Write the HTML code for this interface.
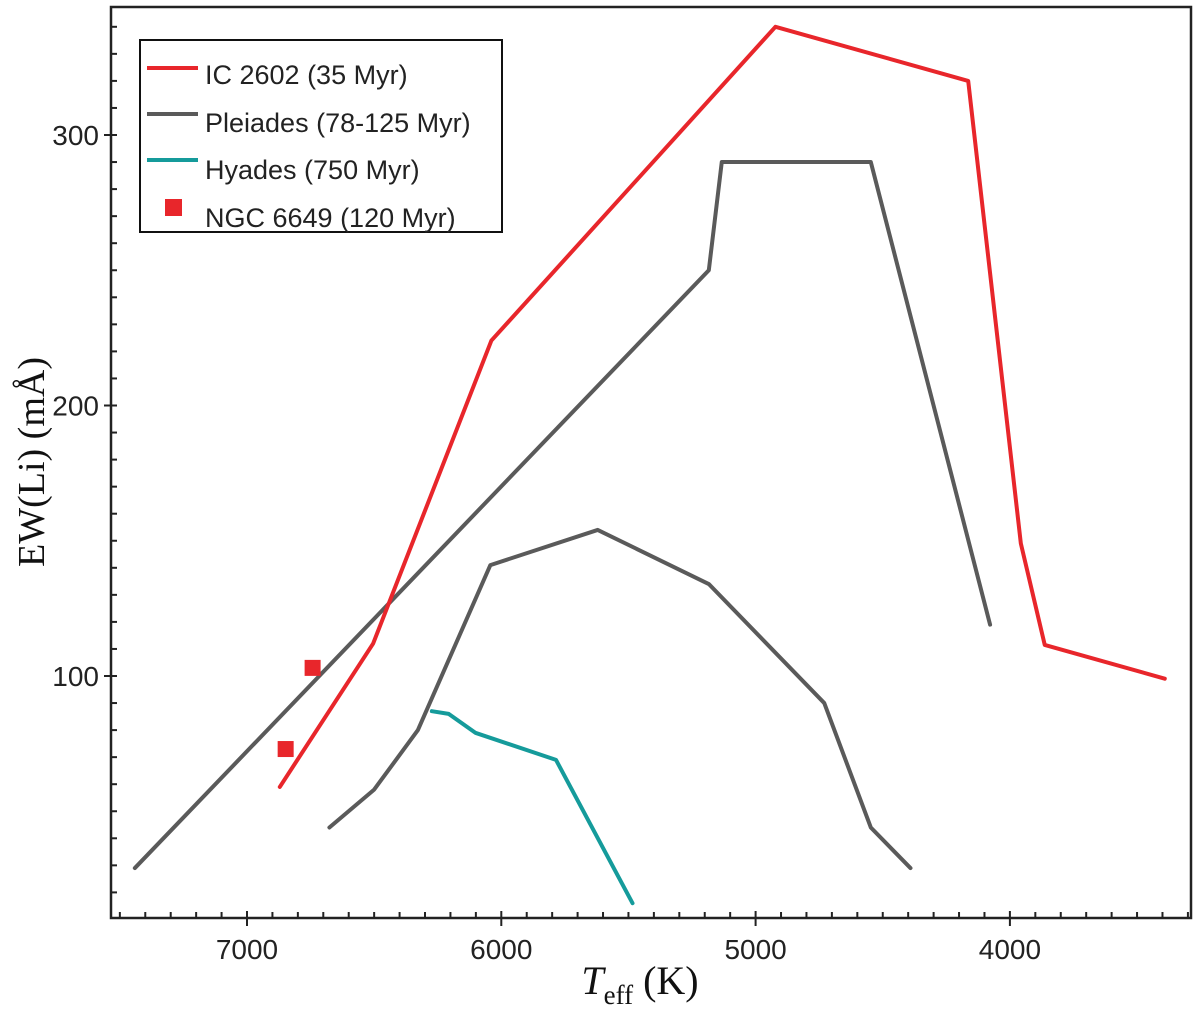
<!DOCTYPE html>
<html><head><meta charset="utf-8"><style>
html,body{margin:0;padding:0;background:#fff;width:1200px;height:1013px;overflow:hidden}
svg{display:block}
</style></head><body>
<svg id="chart" width="1200" height="1013" xmlns="http://www.w3.org/2000/svg">
<g id="ticks"></g>
<g id="series"></g>
<rect x="111" y="7" width="1080" height="911" fill="none" stroke="#222" stroke-width="2.5"/>
<text transform="translate(44,462) rotate(-90)" text-anchor="middle" font-family="Liberation Serif, serif" font-size="38" fill="#111">EW(Li) (mÅ)</text>
<text x="640" y="994" text-anchor="middle" font-family="Liberation Serif, serif" font-size="40" fill="#111"><tspan font-style="italic">T</tspan><tspan font-size="27" dy="10">eff</tspan><tspan dy="-10"> (K)</tspan></text>
<g>
<rect x="140" y="40" width="362" height="192" fill="#fff" stroke="#111" stroke-width="2"/>
<line x1="147" y1="68" x2="198" y2="68" stroke="#e8262b" stroke-width="4"/>
<text x="205" y="84" font-family="Liberation Sans, sans-serif" font-size="27" fill="#222">IC 2602 (35 Myr)</text>
<line x1="147" y1="114" x2="198" y2="114" stroke="#5a5a5a" stroke-width="4"/>
<text x="205" y="132" font-family="Liberation Sans, sans-serif" font-size="27" fill="#222">Pleiades (78-125 Myr)</text>
<line x1="147" y1="160" x2="198" y2="160" stroke="#159b9b" stroke-width="4"/>
<text x="205" y="179" font-family="Liberation Sans, sans-serif" font-size="27" fill="#222">Hyades (750 Myr)</text>
<rect x="165" y="199" width="17" height="17" fill="#e8262b"/>
<text x="205" y="227" font-family="Liberation Sans, sans-serif" font-size="27" fill="#222">NGC 6649 (120 Myr)</text>
</g>
</svg>
<script>
const ic2602T=[6871,6504,6039,4922,4164,3957,3863,3391];
const ic2602V=[59,112,224,340,320,149,111.5,99];
const pleiadesUpperT=[7441,5184,5133,4547,4078];
const pleiadesUpperV=[29,250,290,290,119];
const pleiadesLowerT=[6676,6500,6328,6043,5621,5184,4730,4547,4391];
const pleiadesLowerV=[44,58,80,141,154,134,90,44,29];
const hyadesT=[6273,6207,6102,5785,5484];
const hyadesV=[87,86,79,69,16];
const ngcT=[6742,6848];
const ngcV=[103,73];
const xTickLabels=[7000,6000,5000,4000];
const yTickLabels=[100,200,300];

const NS='http://www.w3.org/2000/svg';
function xs(t){return 247+(7000-t)*0.2543;}
function ys(v){return 676-(v-100)*2.705;}
const tg=document.getElementById('ticks');
const sg=document.getElementById('series');
function mk(tag,attrs,parent){const e=document.createElementNS(NS,tag);for(const k in attrs)e.setAttribute(k,attrs[k]);parent.appendChild(e);return e;}
for(let t=7500;t>=3300;t-=100){
  const x=xs(t);if(x<112||x>1190)continue;
  const major=t%1000===0;
  const l=mk('line',{x1:x,x2:x,y1:major?911:912,y2:major?926:918,stroke:'#222','stroke-width':2},tg);
  
  
}
xTickLabels.forEach(t=>{
  const e=mk('text',{x:xs(t),y:959,'text-anchor':'middle','font-family':'Liberation Sans, sans-serif','font-size':28,fill:'#222'},tg);
  e.textContent=t;
  
  
});
for(let v=20;v<=340;v+=10){
  const y=ys(v);const major=v%100===0;
  const l=mk('line',{x1:major?104:111,x2:117,y1:y,y2:y,stroke:'#222','stroke-width':2},tg);
  
  
}
yTickLabels.forEach(v=>{
  const e=mk('text',{x:99,y:ys(v)+10,'text-anchor':'end','font-family':'Liberation Sans, sans-serif','font-size':28,fill:'#222'},tg);
  e.textContent=v;
  
  
});
function line(T,V,color,name){
  const pts=T.map((t,i)=>xs(t)+','+ys(V[i])).join(' ');
  const p=mk('polyline',{points:pts,fill:'none',stroke:color,'stroke-width':4,'stroke-linejoin':'round','stroke-linecap':'round'},sg);
  
  
}
line(pleiadesUpperT,pleiadesUpperV,'#5a5a5a','pleiades-upper-line');
line(pleiadesLowerT,pleiadesLowerV,'#5a5a5a','pleiades-lower-line');
line(hyadesT,hyadesV,'#159b9b','hyades-line');
line(ic2602T,ic2602V,'#e8262b','ic2602-line');
ngcT.forEach((t,i)=>{
  const r=mk('rect',{x:xs(t)-8,y:ys(ngcV[i])-8,width:16,height:16,fill:'#e8262b'},sg);
  
  
});
</script>
</body></html>
